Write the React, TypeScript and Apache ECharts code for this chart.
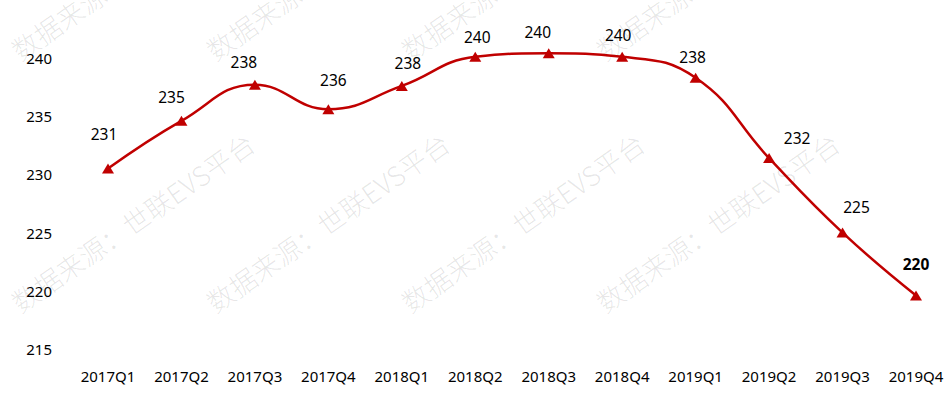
import React, { useEffect, useRef } from "react";
import * as echarts from "echarts";

const categories = [
  "2017Q1", "2017Q2", "2017Q3", "2017Q4",
  "2018Q1", "2018Q2", "2018Q3", "2018Q4",
  "2019Q1", "2019Q2", "2019Q3", "2019Q4",
];
const values = [230.5, 234.6, 237.7, 235.6, 237.6, 240.1, 240.4, 240.1, 238.3, 231.4, 225.0, 219.6];
const pointLabels = ["231", "235", "238", "236", "238", "240", "240", "240", "238", "232", "225", "220"];
const yTicks = [215, 220, 225, 230, 235, 240];
const watermarkText = "数据来源：世联EVS平台";

// label placement tweaks (style, not data)
const labelOffsets: [number, number][] = [
  [-4, -14], [-10, -3], [-11, -2], [5, -8], [6, -2], [2, 1],
  [-11, 0], [-4, -1], [-3, 0], [28, 1], [14, -5], [0, -10],
];

export default function App() {
  const ref = useRef<HTMLDivElement>(null);
  useEffect(() => {
    if (!ref.current) return;
    const chart = echarts.init(ref.current, undefined, { renderer: "svg" });
    const rot = (35 * Math.PI) / 180;
    const wmCols = [22, 217, 412, 607];
    const wmRows = [64, 316];
    const graphics: any[] = [];
    wmRows.forEach((y) =>
      wmCols.forEach((x) =>
        graphics.push({
          type: "text",
          x,
          y,
          rotation: rot,
          z: 0,
          silent: true,
          style: {
            text: watermarkText,
            fill: "rgba(0,0,0,0.1)",
            font: '300 27px "Noto Sans CJK SC"',
            textVerticalAlign: "bottom",
            textAlign: "left",
          },
        })
      )
    );
    chart.setOption({
      animation: false,
      grid: { left: 108, right: 34, top: 58, bottom: 47, containLabel: false },
      graphic: graphics,
      xAxis: {
        type: "category",
        data: categories,
        boundaryGap: false,
        axisLine: { show: false },
        axisTick: { show: false },
        axisLabel: {
          color: "#000",
          fontSize: 15,
          fontFamily: "Noto Sans",
          margin: 19,
          interval: 0,
        },
      },
      yAxis: {
        type: "value",
        min: yTicks[0],
        max: yTicks[yTicks.length - 1],
        interval: 5,
        splitLine: { show: false },
        axisLine: { show: false },
        axisTick: { show: false },
        axisLabel: {
          color: "#000",
          fontSize: 15,
          fontFamily: "Noto Sans",
          margin: 56,
        },
      },
      series: [
        {
          type: "line",
          data: values.map((v, i) => ({
            value: v,
            label: {
              offset: labelOffsets[i],
              fontWeight: i === values.length - 1 ? "bold" : "normal",
            },
          })),
          smooth: 0.45,
          clip: false,
          symbol: "triangle",
          symbolSize: [12, 10],
          lineStyle: { color: "#C00000", width: 2.5 },
          itemStyle: { color: "#C00000" },
          label: {
            show: true,
            position: "top",
            distance: 8,
            color: "#000",
            fontSize: 15.5,
            fontFamily: "Noto Sans",
            formatter: (p: any) => pointLabels[p.dataIndex],
          },
          z: 5,
        },
      ],
    });
    return () => chart.dispose();
  }, []);
  return <div ref={ref} style={{ width: 950, height: 396, position: "absolute", left: 0, top: 0 }} />;
}
